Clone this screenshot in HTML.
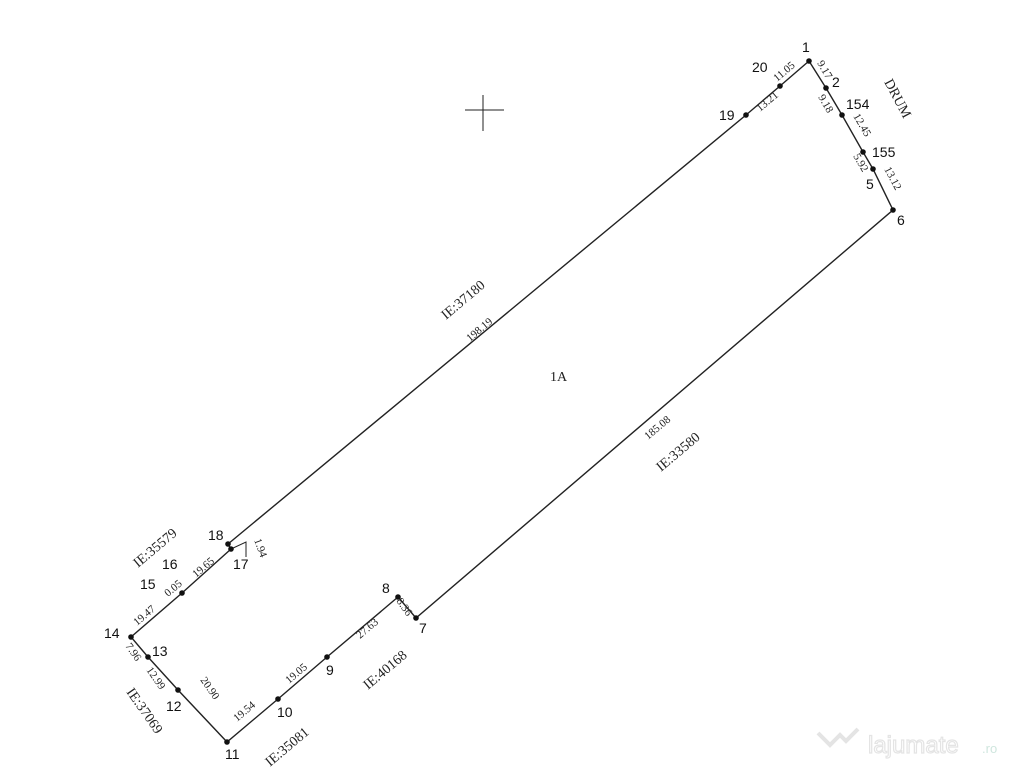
<!DOCTYPE html>
<html><head><meta charset="utf-8"><style>
html,body{margin:0;padding:0;background:#fff;}
svg{display:block}
.n{font-family:"Liberation Sans",sans-serif;font-size:14px;fill:#111}
.s{font-family:"Liberation Serif",serif;font-size:11px;fill:#222}
.b{font-family:"Liberation Serif",serif;font-size:14px;fill:#222}
</style></head><body>
<svg width="1024" height="768" viewBox="0 0 1024 768">
<g stroke="#222" stroke-width="1.4" fill="none">
<polyline points="809,61 780,86 746,115 228,544 231,549 182,593 131,637 148,657 178,690 227,742 278,699 327,657 398,597 416,618 893,210 873,169 863,152 842,115 826,88 809,61"/>
<polyline points="231,549 246,542 246,557" stroke-width="1"/>
<line x1="483" y1="95" x2="483" y2="131" stroke-width="1"/>
<line x1="465" y1="110" x2="504" y2="110" stroke-width="1"/>
</g>
<g fill="#111">
<circle cx="809" cy="61" r="2.8"/><circle cx="780" cy="86" r="2.8"/><circle cx="746" cy="115" r="2.8"/>
<circle cx="826" cy="88" r="2.8"/><circle cx="842" cy="115" r="2.8"/><circle cx="863" cy="152" r="2.8"/>
<circle cx="873" cy="169" r="2.8"/><circle cx="893" cy="210" r="2.8"/><circle cx="228" cy="544" r="2.8"/>
<circle cx="231" cy="549" r="2.8"/><circle cx="182" cy="593" r="2.8"/><circle cx="131" cy="637" r="2.8"/>
<circle cx="148" cy="657" r="2.8"/><circle cx="178" cy="690" r="2.8"/><circle cx="227" cy="742" r="2.8"/>
<circle cx="278" cy="699" r="2.8"/><circle cx="327" cy="657" r="2.8"/><circle cx="398" cy="597" r="2.8"/>
<circle cx="416" cy="618" r="2.8"/>
</g>
<g class="n">
<text x="802" y="52">1</text><text x="752" y="72">20</text><text x="719" y="120">19</text>
<text x="832" y="87">2</text><text x="846" y="109">154</text><text x="872" y="157">155</text>
<text x="866" y="189">5</text><text x="897" y="225">6</text>
<text x="208" y="540">18</text><text x="233" y="569">17</text><text x="162" y="569">16</text>
<text x="140" y="589">15</text><text x="104" y="638">14</text><text x="152" y="656">13</text>
<text x="166" y="711">12</text><text x="225" y="759">11</text><text x="277" y="717">10</text>
<text x="326" y="675">9</text><text x="382" y="593">8</text><text x="419" y="633">7</text>
</g>
<text class="b" x="550" y="381">1A</text>
<g class="s">
<text transform="translate(760,112) rotate(-40)">13.21</text>
<text transform="translate(777,82) rotate(-40)">11.05</text>
<text transform="translate(817,63) rotate(60)">9.17</text>
<text transform="translate(818,97) rotate(60)">9.18</text>
<text transform="translate(853,116) rotate(60)">12.45</text>
<text transform="translate(853,156) rotate(60)">5.92</text>
<text transform="translate(884,169) rotate(62)">13.12</text>
<text transform="translate(470,342) rotate(-40)">198.19</text>
<text transform="translate(648,440) rotate(-40)">185.08</text>
<text transform="translate(196,578) rotate(-40)">19.65</text>
<text transform="translate(168,597) rotate(-40)">0.05</text>
<text transform="translate(137,626) rotate(-40)">19.47</text>
<text transform="translate(125,646) rotate(55)">7.96</text>
<text transform="translate(146,670) rotate(55)">12.99</text>
<text transform="translate(200,680) rotate(55)">20.90</text>
<text transform="translate(237,722) rotate(-40)">19.54</text>
<text transform="translate(289,684) rotate(-40)">19.05</text>
<text transform="translate(360,639) rotate(-40)">27.63</text>
<text transform="translate(396,601) rotate(55)">8.36</text>
<text transform="translate(254,540) rotate(70)">1.94</text>
</g>
<g class="b">
<text transform="translate(884,82) rotate(62)">DRUM</text>
<text transform="translate(446,320) rotate(-40)">IE:37180</text>
<text transform="translate(661,472) rotate(-40)">IE:33580</text>
<text transform="translate(138,568) rotate(-40)">IE:35579</text>
<text transform="translate(126,692) rotate(55)">IE:37069</text>
<text transform="translate(270,767) rotate(-40)">IE:35081</text>
<text transform="translate(368,690) rotate(-40)">IE:40168</text>
</g>
<text x="868" y="753" font-family="Liberation Sans,sans-serif" font-size="24" fill="none" stroke="#e4e4e4" stroke-width="1.2">lajumate</text>
<text x="982" y="753" font-family="Liberation Sans,sans-serif" font-size="13" fill="#cfe6de">.ro</text>
<path d="M818,733 l12,12 l10,-10 l6,6 l12,-12" fill="none" stroke="#e4e4e4" stroke-width="4"/>
</svg>
</body></html>
